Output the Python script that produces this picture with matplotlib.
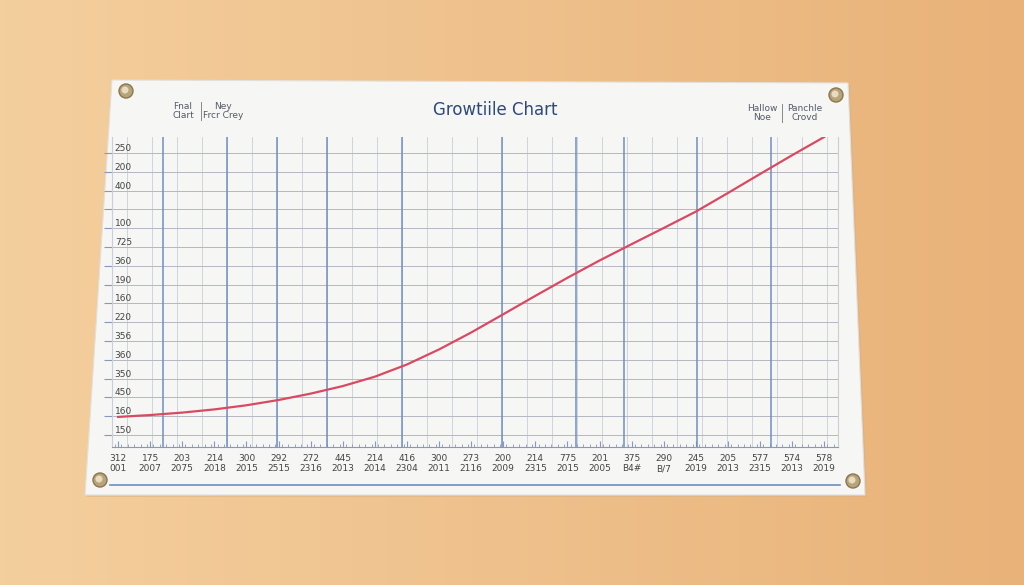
import numpy as np
import matplotlib
matplotlib.use("Agg")
import matplotlib.pyplot as plt
from matplotlib.patches import Polygon, Circle

# --- data ---
x_labels = ["312\n001", "175\n2007", "203\n2075", "214\n2018", "300\n2015",
            "292\n2515", "272\n2316", "445\n2013", "214\n2014", "416\n2304",
            "300\n2011", "273\n2116", "200\n2009", "214\n2315", "775\n2015",
            "201\n2005", "375\nB4#", "290\nB/7", "245\n2019", "205\n2013",
            "577\n2315", "574\n2013", "578\n2019"]
y_labels = ["150", "160", "450", "350", "360", "356", "220", "160", "190",
            "360", "725", "100", "", "400", "200", "250"]
growth = [0.96, 1.06, 1.19, 1.36, 1.58, 1.86, 2.2, 2.6, 3.1, 3.75, 4.55,
          5.45, 6.42, 7.4, 8.36, 9.28, 10.15, 11.01, 11.88, 12.87, 13.88,
          14.88, 15.85]

# grid layout of the printed sheet
blue_lines = [1.40, 3.40, 4.95, 6.51, 8.85, 11.96, 14.27, 15.76, 18.04, 20.34]
minor_lines = np.arange(0.28, 22.4, 0.779)

W, H = 1024, 585
fig = plt.figure(figsize=(W / 100, H / 100), dpi=100)

# background wall + paper
bg = fig.add_axes([0, 0, 1, 1])
bg.set_xlim(0, W)
bg.set_ylim(H, 0)
bg.axis("off")
grad = np.linspace(0, 1, 256)[None, :, None]
left_c = np.array([244, 207, 158]) / 255
right_c = np.array([233, 178, 121]) / 255
bg.imshow(left_c + (right_c - left_c) * grad, extent=[0, W, H, 0], aspect="auto")
bg.add_patch(Polygon([[114, 82], [850, 85], [867, 497], [87, 497]],
                     closed=True, facecolor="#d9b080", edgecolor="none", alpha=0.5))
bg.add_patch(Polygon([[112, 80], [848, 83], [865, 495], [85, 495]],
                     closed=True, facecolor="#f6f6f5", edgecolor="#e2e0dc", lw=0.8))
for px, py in [(126, 91), (836, 95), (100, 480), (853, 481)]:
    bg.add_patch(Circle((px, py), 7, facecolor="#b9a47a", edgecolor="#8a7650", lw=1))
    bg.add_patch(Circle((px - 1, py - 1), 3.5, facecolor="#e8dcc0", edgecolor="none"))
bg.plot([110, 840], [485, 485], color="#6f8fc0", lw=1.2)

bg.text(495, 110, "Growtiile Chart", ha="center", va="center",
        fontsize=12, color="#2e4a7a")
bg.text(183, 111, "Fnal\nClart", ha="center", va="center", fontsize=6.5,
        color="#555a66", linespacing=1.1)
bg.plot([201, 201], [102, 120], color="#888", lw=0.7)
bg.text(223, 111, "Ney\nFrcr Crey", ha="center", va="center", fontsize=6.5,
        color="#555a66", linespacing=1.1)
bg.text(762, 113, "Hallow\nNoe", ha="center", va="center", fontsize=6.5,
        color="#555a66", linespacing=1.1)
bg.plot([782, 782], [104, 122], color="#888", lw=0.7)
bg.text(805, 113, "Panchle\nCrovd", ha="center", va="center", fontsize=6.5,
        color="#555a66", linespacing=1.1)

# chart area
ax = fig.add_axes([112 / W, (H - 447) / H, (838 - 112) / W, (447 - 137) / H])
ax.set_facecolor("none")
x = np.arange(len(growth))
ax.set_xlim(-0.19, 22.43)
ax.set_ylim(-0.64, 15.85)

for v in minor_lines:
    ax.axvline(v, color="#c9ced8", lw=0.6, zorder=1)
for v in blue_lines:
    ax.axvline(v, color="#7090c2", lw=1.1, zorder=2)
for k in range(16):
    ax.axhline(k, color="#b4b8c0", lw=0.7, zorder=1)

ax.plot(x, growth, color="#d94a62", lw=1.6, zorder=3)

ax.set_xticks(x)
ax.set_xticklabels(x_labels, fontsize=6.5, color="#444", linespacing=1.2)
ax.set_xticks(np.arange(-0.1, 22.4, 0.2), minor=True)
ax.tick_params(axis="x", which="major", direction="in", length=4, pad=5, color="#8898b8")
ax.tick_params(axis="x", which="minor", direction="in", length=2, color="#8898b8")

ax.set_yticks(range(16))
ax.set_yticklabels(y_labels, fontsize=6.5, color="#444")
ax.tick_params(axis="y", direction="out", length=6, pad=-8, color="#8898b8")
for lab in ax.get_yticklabels():
    lab.set_horizontalalignment("left")
    lab.set_verticalalignment("bottom")

ax.spines["top"].set_visible(False)
ax.spines["left"].set_color("#c9ced8")
ax.spines["bottom"].set_color("#8898b8")
ax.spines["right"].set_color("#c9ced8")

fig.savefig("out.png", dpi=100)
